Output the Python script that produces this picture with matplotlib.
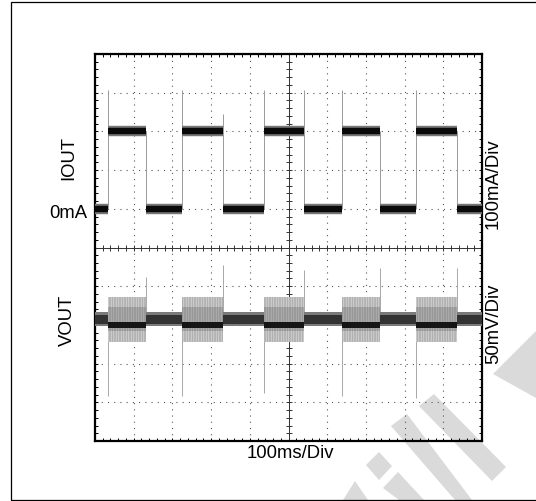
import matplotlib
matplotlib.use("Agg")
import matplotlib.pyplot as plt
from matplotlib.patches import Polygon, Rectangle
import numpy as np

plt.rcParams['font.family'] = ['Liberation Sans', 'DejaVu Sans']
plt.rcParams['hatch.linewidth'] = 0.35

# scope settings
TIME_DIV = 100      # ms/div
IOUT_DIV = 100      # mA/div
VOUT_DIV = 50       # mV/div
IOUT_ZERO = 1.0     # div where 0mA sits
VOUT_ZERO = -1.85   # div where light-load VOUT sits

# load step segments (ms)
seg_start = [0, 34, 132, 226, 332, 437, 541, 638, 736, 830, 936]
seg_end = [34, 132, 226, 332, 437, 541, 638, 736, 830, 936, 1000]
iout_ma = [0, 200, 0, 200, 0, 200, 0, 200, 0, 200, 0]
vout_mv = [0, -7.5, 0, -7.5, 0, -7.5, 0, -7.5, 0, -7.5, 0]          # dark core
vout_ripple_mv = [9, 29, 9, 29, 9, 29, 9, 29, 9, 29, 9]              # noise half-width

# switching edges (ms) and their spikes
edge_ms = [34, 132, 226, 332, 437, 541, 638, 736, 830, 936]
iout_edge_peak_ma = [307, 200, 307, 245, 307, 307, 307, 200, 307, 200]
vout_edge_peak_mv = [-100, 55, -100, 70, -95, 64, -100, 66, -102, 66]

W, H = 536, 502
fig = plt.figure(figsize=(W / 100, H / 100), dpi=100)
ax = fig.add_axes([95 / W, 1 - 442 / H, 387 / W, 387 / H])
ax.set_facecolor('none')

# watermark behind everything (pixel coords)
watermark = [
    [(493, 375), (536, 332), (536, 399)],
    [(419, 407), (434, 395), (506, 468), (492, 482)],
    [(391, 427), (407, 415), (472, 501), (455, 501)],
    [(366, 466), (379, 453), (392, 467), (379, 481)],
    [(383, 489), (398, 473), (424, 501), (399, 501)],
    [(343, 501), (355, 482), (368, 501)],
]
for pts in watermark:
    fig.patches.append(Polygon([(x / W, 1 - y / H) for x, y in pts], closed=True,
                               transform=fig.transFigure, facecolor='#dadada',
                               edgecolor='none', zorder=-5))

# outer frame
fig.patches.append(Rectangle((10.7 / W, 1.5 / H), 1.2, 1 - 4.8 / H,
                             transform=fig.transFigure, fill=False,
                             edgecolor='black', lw=0.9, zorder=-4))

ax.set_xlim(0, 10 * TIME_DIV)
ax.set_ylim(-5, 5)
ax.set_xticks(np.arange(0, 10 * TIME_DIV + 1, TIME_DIV))
ax.set_yticks(np.arange(-5, 6, 1))
ax.set_xticks(np.arange(0, 10 * TIME_DIV + 1, TIME_DIV / 5), minor=True)
ax.set_yticks(np.arange(-5, 5.01, 0.2), minor=True)
ax.tick_params(which='both', direction='in', length=2.4, width=0.7,
               top=True, right=True, labelbottom=False, labelleft=False)
ax.grid(True, which='major', color='#555555', lw=0.8, ls=(0, (1, 4.6)))
for s in ax.spines.values():
    s.set_linewidth(1.6)

# centre crosshair with sub-division marks
ax.axhline(0, color='#333333', lw=0.7, zorder=2)
ax.axvline(5 * TIME_DIV, color='#333333', lw=0.7, zorder=2)
ax.plot(np.arange(0, 10 * TIME_DIV + 1, TIME_DIV / 5), np.zeros(51), '|',
        color='#333333', ms=5, mew=0.7, zorder=2)
ax.plot(np.full(51, 5 * TIME_DIV), np.arange(-5, 5.01, 0.2), '_',
        color='#333333', ms=5, mew=0.7, zorder=2)

# IOUT trace
iout_div = [IOUT_ZERO + v / IOUT_DIV for v in iout_ma]
edge_top = [IOUT_ZERO + v / IOUT_DIV for v in iout_edge_peak_ma]
ax.vlines(edge_ms, IOUT_ZERO, edge_top, color='#9a9a9a', lw=0.7, zorder=3)
ax.hlines(iout_div, seg_start, seg_end, color='#777777', lw=7.5, zorder=4)
ax.hlines(iout_div, seg_start, seg_end, color='#0a0a0a', lw=4.6, zorder=5)

# VOUT trace
vout_peak = [VOUT_ZERO + v / VOUT_DIV for v in vout_edge_peak_mv]
ax.vlines(edge_ms, VOUT_ZERO, vout_peak, color='#a8a8a8', lw=0.7, zorder=3)
for t0, t1, core, rip in zip(seg_start, seg_end, vout_mv, vout_ripple_mv):
    c = VOUT_ZERO + core / VOUT_DIV
    r = rip / VOUT_DIV
    if rip > 15:
        ax.fill_between([t0, t1], VOUT_ZERO - r, VOUT_ZERO + r, facecolor='#cfcfcf',
                        edgecolor='#909090', hatch='||||||||||', lw=0, zorder=4)
        ax.fill_between([t0, t1], VOUT_ZERO - r * 0.55, VOUT_ZERO + r * 0.55, facecolor='#adadad',
                        edgecolor='#808080', hatch='||||||||||', lw=0, zorder=4)
        ax.fill_between([t0, t1], c - 0.07, c + 0.07, color='#151515', lw=0, zorder=5)
    else:
        ax.fill_between([t0, t1], c - r, c + r, color='#7a7a7a', lw=0, zorder=4)
        ax.fill_between([t0, t1], c - r * 0.65, c + r * 0.65, color='#333333', lw=0, zorder=5)

fs = 13.3
fig.text(69 / W, 1 - 158 / H, 'IOUT', rotation=90, ha='center', va='center', fontsize=fs)
fig.text(87 / W, 1 - 214 / H, '0mA', ha='right', va='center', fontsize=fs)
fig.text(67 / W, 1 - 320 / H, 'VOUT', rotation=90, ha='center', va='center', fontsize=fs)
fig.text(493 / W, 1 - 184 / H, '100mA/Div', rotation=90, ha='center', va='center', fontsize=fs)
fig.text(494 / W, 1 - 324 / H, '50mV/Div', rotation=90, ha='center', va='center', fontsize=fs)
fig.text(290 / W, 1 - 454 / H, '100ms/Div', ha='center', va='center', fontsize=fs)

fig.savefig('out.png', dpi=100)
